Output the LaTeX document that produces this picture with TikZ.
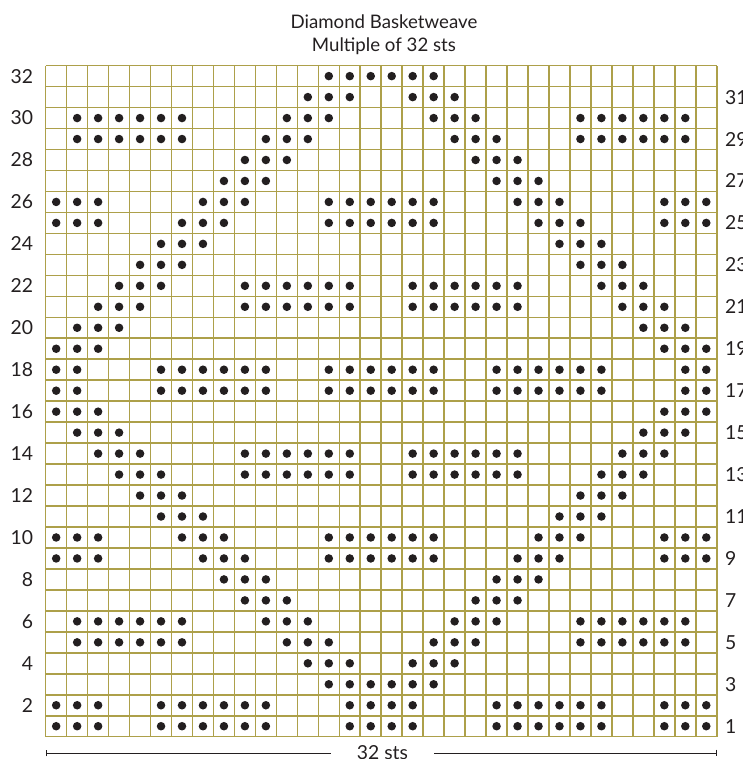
\documentclass[tikz,border=0pt]{standalone}
\usepackage{fontspec}
\setmainfont{Lato}
\usepackage{xcolor}
\usepackage{tikz}
\usetikzlibrary{arrows.meta, positioning}
\definecolor{gridolive}{HTML}{ADA04A}
\definecolor{dark}{HTML}{231F20}
\tikzset{
    chartgrid/.style={
        draw=gridolive, line width=1.15pt
    },
    purldot/.style={
        fill=dark
    },
    rowlab/.style={
        font=\fontsize{14.5}{16}\selectfont, text=dark, inner sep=0pt
    },
    titlelab/.style={
        font=\fontsize{14}{17.3}\selectfont, text=dark, align=center, inner sep=0pt
    },
    widthline/.style={
        line width=0.75pt, draw=dark
    },
}

\begin{document}
\begin{tikzpicture}[x=15.73pt, y=15.73pt]

    \useasboundingbox (-2.179,-1.063) rectangle (33.205,35.13);

    % ── Title ──
    \node[titlelab] (title) at (16.13,33.48) {Diamond Basketweave\\Multiple of 32 sts};

    % ── Grid ──
    \foreach \i in {0,...,32} {
        \draw[chartgrid] (\i,0) -- (\i,32);
        \draw[chartgrid] (0,\i) -- (32,\i);
    }

    % ── Purl dots, row/runs of columns ──
    \foreach \r/\runs in {
        1/{1/3,6/11,15/18,22/27,30/32},
        2/{1/3,6/11,15/18,22/27,30/32},
        3/{14/19},
        4/{13/15,18/20},
        5/{2/7,12/14,19/21,26/31},
        6/{2/7,11/13,20/22,26/31},
        7/{10/12,21/23},
        8/{9/11,22/24},
        9/{1/3,8/10,14/19,23/25,30/32},
        10/{1/3,7/9,14/19,24/26,30/32},
        11/{6/8,25/27},
        12/{5/7,26/28},
        13/{4/6,10/15,18/23,27/29},
        14/{3/5,10/15,18/23,28/30},
        15/{2/4,29/31},
        16/{1/3,30/32},
        17/{1/2,6/11,14/19,22/27,31/32},
        18/{1/2,6/11,14/19,22/27,31/32},
        19/{1/3,30/32},
        20/{2/4,29/31},
        21/{3/5,10/15,18/23,28/30},
        22/{4/6,10/15,18/23,27/29},
        23/{5/7,26/28},
        24/{6/8,25/27},
        25/{1/3,7/9,14/19,24/26,30/32},
        26/{1/3,8/10,14/19,23/25,30/32},
        27/{9/11,22/24},
        28/{10/12,21/23},
        29/{2/7,11/13,20/22,26/31},
        30/{2/7,12/14,19/21,26/31},
        31/{13/15,18/20},
        32/{14/19}}{
        \foreach \ca/\cb in \runs {
            \foreach \c in {\ca,...,\cb}
                \fill[purldot] (\c-0.5,\r-0.5) circle (3.2pt);
        }
    }

    % ── Row numbers ──
    \foreach \r in {2,4,...,32}
        \node[rowlab, anchor=east] (lab\r) at (-0.59,\r-0.5) {\r};
    \foreach \r in {1,3,...,31}
        \node[rowlab, anchor=west] (lab\r) at (32.39,\r-0.5) {\r};

    % ── Stitch count ──
    \node[rowlab, inner xsep=19.5pt] (stsw) at (16.06,-0.777) {32 sts};
    \coordinate (wl) at (0,-0.777);
    \coordinate (wr) at (32,-0.777);
    \draw[widthline, {Bar[width=5pt]}-] (wl) -- (stsw.west);
    \draw[widthline, -{Bar[width=5pt]}] (stsw.east) -- (wr);

\end{tikzpicture}
\end{document}
